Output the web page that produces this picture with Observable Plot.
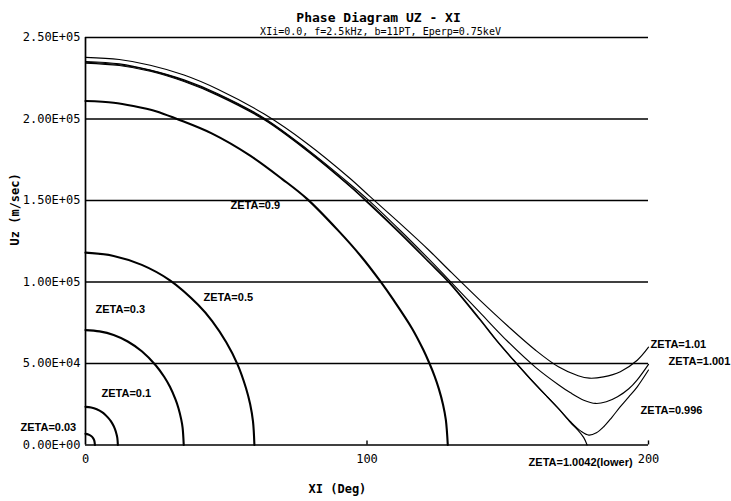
<!DOCTYPE html>
<html>
<head>
<meta charset="utf-8">
<script src="https://cdn.jsdelivr.net/npm/d3@7"></script>
<script src="https://cdn.jsdelivr.net/npm/@observablehq/plot@0.6"></script>
<style>
  body { margin: 0; background: #fff; }
  #chart svg { display: block; }
</style>
</head>
<body>
<div id="chart"></div>
<script>
// ---------- Data ----------
const titleText = "Phase Diagram UZ - XI";
const subtitleText = "XIi=0.0, f=2.5kHz, b=11PT, Eperp=0.75keV";
const xTitle = "XI (Deg)";
const yTitle = "Uz (m/sec)";

const xTicks = [0, 100, 200];
const xTickLabels = ["0", "100", "200"];
const yTicks = [0, 50000, 100000, 150000, 200000, 250000];
const yTickLabels = ["0.00E+00", "5.00E+04", "1.00E+05", "1.50E+05", "2.00E+05", "2.50E+05"];

// closed (trapped) orbits
const z003X = [0, 1, 2, 2.7, 3.1, 3.35];
const z003U = [6800, 6500, 5500, 4200, 2800, 0];

const z01X = [0, 2, 4, 6, 7, 8, 9, 10, 10.5, 11, 11.3, 11.5];
const z01U = [23400, 23000, 21900, 20000, 18600, 16800, 14600, 11600, 9600, 6800, 4400, 0];

const z03X = [0, 5, 10, 15, 20, 25, 28, 30, 32, 33, 34, 34.5, 34.9];
const z03U = [70500, 69700, 67500, 63500, 57500, 48800, 41700, 35700, 27800, 22700, 15700, 10500, 0];

const z05X = [0, 10, 20, 30, 40, 45, 50, 54, 57, 58.5, 59.5, 60];
const z05U = [118000, 116000, 110500, 101000, 86000, 76000, 63000, 49500, 35000, 25000, 14500, 0];

const z09X = [0, 10, 17, 25, 32.5, 45, 58.5, 70, 78.7, 89.8, 98, 104.7, 109.4, 116, 120, 122.2, 124, 125.5, 127, 128, 128.7];
const z09U = [211000, 210000, 208000, 204800, 200000, 191000, 177500, 163000, 151000, 131500, 115500, 100500, 89000, 71500, 58400, 50000, 42300, 34600, 24900, 15500, 0];

// near-separatrix orbits
const z101X = [0, 12, 23, 35, 47, 63.5, 78.7, 94, 101, 112, 122, 129, 140, 150, 160, 168, 175, 179, 184, 190, 196, 200];
const z101U = [237800, 236500, 233000, 227000, 218300, 203000, 185000, 163500, 152500, 135500, 119500, 107500, 89000, 73000, 58000, 48000, 42500, 41000, 41800, 45000, 52000, 60000];

const z1001X = [0, 12, 23, 35, 47, 63.5, 78.7, 94, 101, 112, 122, 129, 140, 150, 160, 168, 172.3, 177, 181.2, 185, 189, 193, 196, 200];
const z1001U = [235300, 233800, 230000, 224000, 215500, 200500, 181500, 160000, 149500, 131300, 114000, 101500, 81500, 63500, 47500, 37000, 32000, 27500, 25500, 26500, 29600, 34500, 40000, 49500];

const z0996X = [0, 12, 23, 35, 47, 63.5, 78.7, 94, 101, 112, 122, 129, 140, 146, 152, 158, 164, 168, 172.3, 176, 178.8, 181.5, 184.1, 187, 190, 193, 196, 200];
const z0996U = [234300, 232800, 229300, 223000, 214500, 199500, 180500, 158500, 147400, 129300, 112000, 99800, 77000, 64000, 52000, 40500, 29600, 22500, 14300, 8500, 6100, 7500, 11200, 17000, 23500, 29500, 35700, 46000];

const z10042X = [0, 12, 23, 35, 47, 63.5, 78.7, 94, 101, 112, 122, 129, 140, 146, 152, 158, 164, 168, 172.3, 175, 177, 178.2];
const z10042U = [234800, 233300, 229800, 223500, 215000, 200000, 181000, 159000, 148000, 129800, 112500, 100300, 77500, 64300, 52300, 40700, 29700, 22300, 13800, 9000, 4500, 0];

// annotation labels
const labelText = ["ZETA=0.03", "ZETA=0.1", "ZETA=0.3", "ZETA=0.5", "ZETA=0.9", "ZETA=1.01", "ZETA=1.001", "ZETA=0.996", "ZETA=1.0042(lower)"];
const labelX = [-23.1, 5.7, 3.55, 41.9, 51.5, 200.7, 207.1, 197.2, 157.4];
const labelU = [10700, 31600, 83400, 90500, 146900, 61700, 51200, 21200, -10700];

// ---------- Build tables ----------
const closedSeries = [
  ["0.03", z003X, z003U], ["0.1", z01X, z01U], ["0.3", z03X, z03U],
  ["0.5", z05X, z05U], ["0.9", z09X, z09U]
];
const openSeries = [
  ["1.01", z101X, z101U], ["1.001", z1001X, z1001U],
  ["0.996", z0996X, z0996U], ["1.0042", z10042X, z10042U]
];
const toRows = list => list.flatMap(([name, xs, us]) => xs.map((x, i) => ({zeta: name, x, u: us[i]})));
const closedRows = toRows(closedSeries);
const openRows = toRows(openSeries);
const labels = labelText.map((t, i) => ({t, x: labelX[i], u: labelU[i]}));

const mono = "'DejaVu Sans Mono', monospace";
const sans = "'Liberation Sans', Arial, sans-serif";

const chart = Plot.plot({
  width: 731,
  height: 501,
  marginLeft: 85,
  marginRight: 83,
  marginTop: 37,
  marginBottom: 56.5,
  style: {background: "#fff", color: "#000"},
  x: {domain: [0, 200], label: null},
  y: {domain: [0, 250000], label: null},
  marks: [
    Plot.ruleY(yTicks.slice(1), {stroke: "#000", strokeWidth: 1.6}),
    Plot.ruleX([0], {y1: 0, y2: 250000, stroke: "#000", strokeWidth: 1.7}),
    Plot.ruleY([0], {stroke: "#000", strokeWidth: 1.7}),
    Plot.ruleX(xTicks.slice(1), {y1: 0, y2: 2500, stroke: "#000", strokeWidth: 1.4}),
    Plot.line(openRows, {x: "x", y: "u", z: "zeta", curve: "catmull-rom", stroke: "#000", strokeWidth: 1.15}),
    Plot.line(closedRows, {x: "x", y: "u", z: "zeta", curve: "catmull-rom", stroke: "#000", strokeWidth: 2.1}),
    Plot.axisY({ticks: yTicks, tickSize: 0, tickPadding: 5, label: null,
      tickFormat: d => yTickLabels[yTicks.indexOf(d)], fontSize: 12, fontFamily: mono}),
    Plot.axisX({ticks: xTicks, tickSize: 0, tickPadding: 9, label: null,
      tickFormat: d => xTickLabels[xTicks.indexOf(d)], fontSize: 12, fontFamily: mono}),
    Plot.text(labels, {x: "x", y: "u", text: "t", textAnchor: "start", fontSize: 11,
      fontFamily: sans, fontWeight: "bold", fill: "#000"}),
    Plot.text([titleText], {x: [104.1], frameAnchor: "top", dy: -25, text: d => d,
      fontSize: 13, fontWeight: "bold", fontFamily: mono, fill: "#000"}),
    Plot.text([subtitleText], {x: [104.8], frameAnchor: "top", dy: -9.5, text: d => d,
      fontSize: 10, fontFamily: mono, fill: "#000"}),
    Plot.text([yTitle], {y: [122400], frameAnchor: "left", dx: -70, rotate: -90, text: d => d,
      fontSize: 12, fontWeight: "bold", fontFamily: mono, fill: "#000"}),
    Plot.text([xTitle], {x: [89.5], frameAnchor: "bottom", dy: 47.5, text: d => d,
      fontSize: 12, fontWeight: "bold", fontFamily: mono, fill: "#000"})
  ]
});
document.getElementById("chart").append(chart);
</script>
</body>
</html>
